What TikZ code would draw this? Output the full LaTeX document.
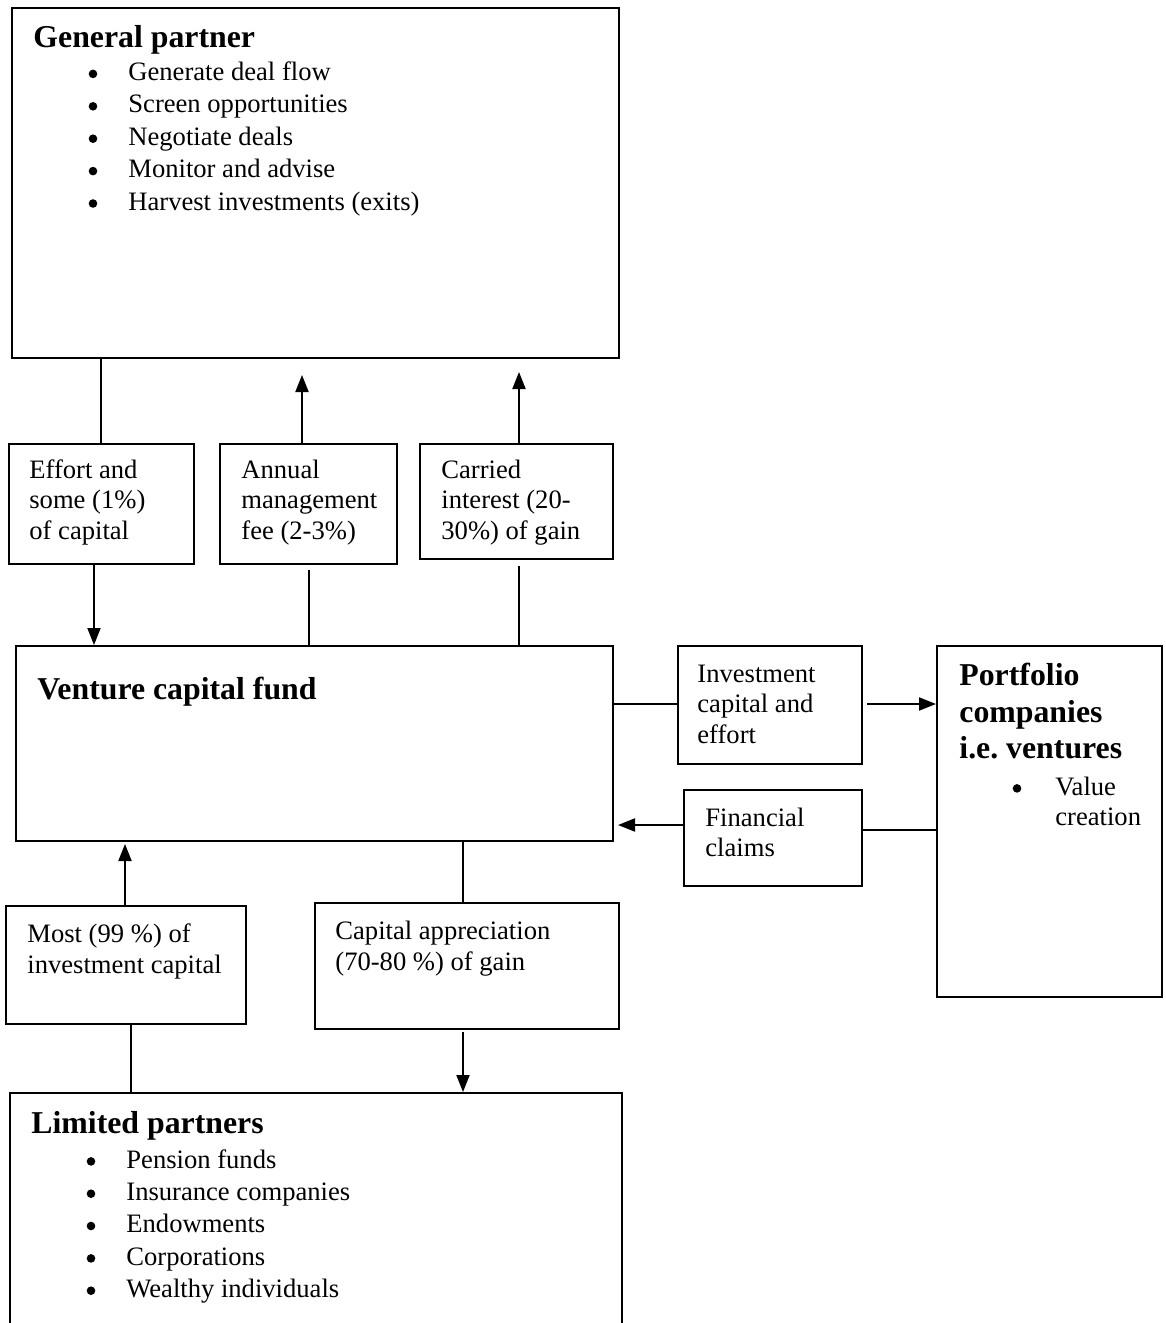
\documentclass[tikz,border=0pt]{standalone}
\usepackage{fontspec}
\setmainfont{Liberation Serif}
\frenchspacing
\usetikzlibrary{fit,calc,arrows.meta}
\tikzset{
  box/.style={draw, line width=1pt, inner sep=0pt},
  txt/.style={anchor=base west, inner sep=0pt, font=\fontsize{13.3}{15}\selectfont},
  head/.style={anchor=base west, inner sep=0pt, font=\fontsize{15.9}{18}\selectfont\bfseries},
  bul/.style={circle, fill, inner sep=0pt, minimum size=4.3pt, yshift=3.3pt},
  conn/.style={line width=1pt},
  arr/.style={line width=1pt, -{Triangle[length=8.5pt,width=6.5pt]}}
}
\begin{document}
\begin{tikzpicture}[x=0.5pt,y=-0.5pt]
\useasboundingbox (0,0) rectangle (1166,1323);
% boxes
\node[box, fit={(12,8)(619,358)}] (gp) {};
\node[box, fit={(9,444)(194,564)}] (effort) {};
\node[box, fit={(220,444)(397,564)}] (annual) {};
\node[box, fit={(420,444)(613,559)}] (carried) {};
\node[box, fit={(16,646)(613,841)}] (vc) {};
\node[box, fit={(678,646)(862,764)}] (invest) {};
\node[box, fit={(937,646)(1162,997)}] (port) {};
\node[box, fit={(684,790)(862,886)}] (fin) {};
\node[box, fit={(6,906)(246,1024)}] (most) {};
\node[box, fit={(315,903)(619,1029)}] (cap) {};
\node[box, fit={(10,1093)(622,1335)}] (lp) {};
% general partner text
\node[head] (gpt) at (33,47) {General partner};
\node[bul] (gpb1) at (93,80.5) {};   \node[txt] (gp1) at (128,80.5) {Generate deal flow};
\node[bul] (gpb2) at (93,112.9) {};  \node[txt] (gp2) at (128,112.9) {Screen opportunities};
\node[bul] (gpb3) at (93,145.3) {};  \node[txt] (gp3) at (128,145.3) {Negotiate deals};
\node[bul] (gpb4) at (93,177.7) {};  \node[txt] (gp4) at (128,177.7) {Monitor and advise};
\node[bul] (gpb5) at (93,210.1) {};  \node[txt] (gp5) at (128,210.1) {Harvest investments (exits)};
% flow boxes
\node[txt] (e1) at (29,478) {Effort and};
\node[txt] (e2) at (29,508.5) {some (1\%)};
\node[txt] (e3) at (29,539) {of capital};
\node[txt] (a1) at (241,478) {Annual};
\node[txt] (a2) at (241,508.5) {management};
\node[txt] (a3) at (241,539) {fee (2-3\%)};
\node[txt] (c1) at (441,478) {Carried};
\node[txt] (c2) at (441,508.5) {interest (20-};
\node[txt] (c3) at (441,539) {30\%) of gain};
% venture capital fund
\node[head] (vct) at (37,699) {Venture capital fund};
% investment
\node[txt] (i1) at (697,682) {Investment};
\node[txt] (i2) at (697,712.5) {capital and};
\node[txt] (i3) at (697,743) {effort};
% portfolio
\node[head] (p1) at (959,685) {Portfolio};
\node[head] (p2) at (959,722) {companies};
\node[head] (p3) at (959,758) {i.e. ventures};
\node[bul] (pb) at (1017,795) {};
\node[txt] (p4) at (1055,795) {Value};
\node[txt] (p5) at (1055,825) {creation};
% financial claims
\node[txt] (f1) at (705,826) {Financial};
\node[txt] (f2) at (705,856) {claims};
% most
\node[txt] (m1) at (27,942) {Most (99 \%) of};
\node[txt] (m2) at (27,973) {investment capital};
% capital appreciation
\node[txt] (ca1) at (335,939) {Capital appreciation};
\node[txt] (ca2) at (335,970) {(70-80 \%) of gain};
% limited partners
\node[head] (lpt) at (31,1133) {Limited partners};
\node[bul] (lpb1) at (91,1168) {};    \node[txt] (lp1) at (126,1168) {Pension funds};
\node[bul] (lpb2) at (91,1200.3) {};  \node[txt] (lp2) at (126,1200.3) {Insurance companies};
\node[bul] (lpb3) at (91,1232.6) {};  \node[txt] (lp3) at (126,1232.6) {Endowments};
\node[bul] (lpb4) at (91,1265) {};    \node[txt] (lp4) at (126,1265) {Corporations};
\node[bul] (lpb5) at (91,1297.3) {};  \node[txt] (lp5) at (126,1297.3) {Wealthy individuals};
% connectors
\draw[conn] (gp.south -| 101,0) -- (effort.north -| 101,0);
\draw[arr] (effort.south -| 94,0) -- (vc.north -| 94,0);
\draw[arr] (annual.north -| 302,0) -- ($(gp.south -| 302,0)+(0,16)$);
\draw[conn] (vc.north -| 309,0) -- ($(annual.south -| 309,0)+(0,5)$);
\draw[arr] (carried.north -| 519,0) -- ($(gp.south -| 519,0)+(0,13)$);
\draw[conn] (vc.north -| 519,0) -- ($(carried.south -| 519,0)+(0,6)$);
\draw[conn] (vc.east |- 0,704) -- (invest.west |- 0,704);
\draw[arr] ($(invest.east |- 0,704)+(4,0)$) -- (port.west |- 0,704);
\draw[arr] (fin.west |- 0,825) -- ($(vc.east |- 0,825)+(4,0)$);
\draw[conn] (fin.east |- 0,830) -- (port.west |- 0,830);
\draw[arr] (most.north -| 125,0) -- ($(vc.south -| 125,0)+(0,2)$);
\draw[conn] (most.south -| 131,0) -- (lp.north -| 131,0);
\draw[conn] (vc.south -| 463,0) -- (cap.north -| 463,0);
\draw[arr] ($(cap.south -| 463,0)+(0,2)$) -- (lp.north -| 463,0);
\end{tikzpicture}
\end{document}
